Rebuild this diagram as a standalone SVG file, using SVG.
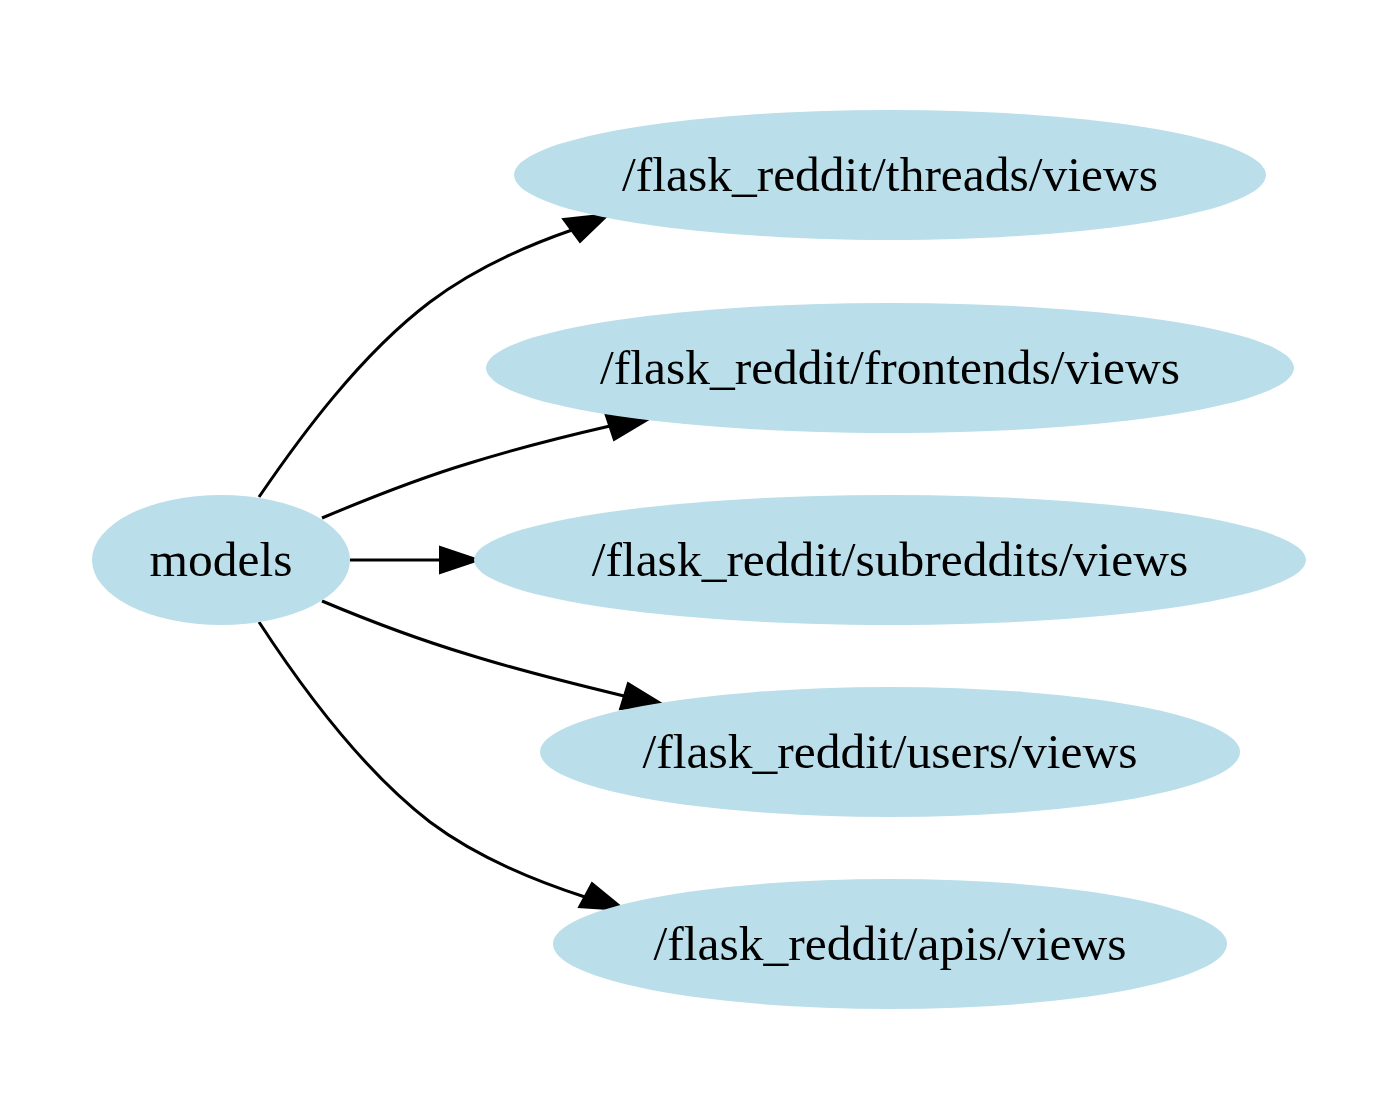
<svg xmlns="http://www.w3.org/2000/svg" width="1386" height="1116" viewBox="0 0 1386 1116">
<style>
.n ellipse{fill:#badeea;stroke:none}
.n text{font-family:"Liberation Serif","Times New Roman",serif;font-size:49.5px;fill:#000;text-anchor:middle}
.e path{fill:none;stroke:#000;stroke-width:3}
.e polygon{fill:#000;stroke:#000;stroke-width:2}
</style>
<rect width="1386" height="1116" fill="#fff"/>
<g id="edges" class="e">
<path d="M259,497 C300,437 360,355 430,302 C470,272 520,248 572,230"/>
<polygon points="563,219 580,242 609,214"/>
<path d="M322,518 C360,502 420,478 470,463 C512,450 562,437 610,426"/>
<polygon points="605,413 614,440 651,418"/>
<path d="M350,560 L440,560"/>
<polygon points="440,547 440,573 479,560"/>
<path d="M322,601 C360,617 420,640 470,655 C515,669 570,683 624,696"/>
<polygon points="628,683 620,709 664,705"/>
<path d="M259,622 C300,685 360,768 430,822 C470,852 520,876 585,897"/>
<polygon points="592,883 579,907 625,910"/>
</g>
<g id="models" class="n"><ellipse cx="221" cy="560" rx="129" ry="65"/><text x="221" y="576">models</text></g>
<g id="threads" class="n"><ellipse cx="890" cy="175" rx="376" ry="65"/><text x="890" y="191">/flask_reddit/threads/views</text></g>
<g id="frontends" class="n"><ellipse cx="890" cy="368" rx="404" ry="65"/><text x="890" y="384">/flask_reddit/frontends/views</text></g>
<g id="subreddits" class="n"><ellipse cx="890" cy="560" rx="416" ry="65"/><text x="890" y="576">/flask_reddit/subreddits/views</text></g>
<g id="users" class="n"><ellipse cx="890" cy="752" rx="350" ry="65"/><text x="890" y="768">/flask_reddit/users/views</text></g>
<g id="apis" class="n"><ellipse cx="890" cy="944" rx="337" ry="65"/><text x="890" y="960">/flask_reddit/apis/views</text></g>
</svg>
